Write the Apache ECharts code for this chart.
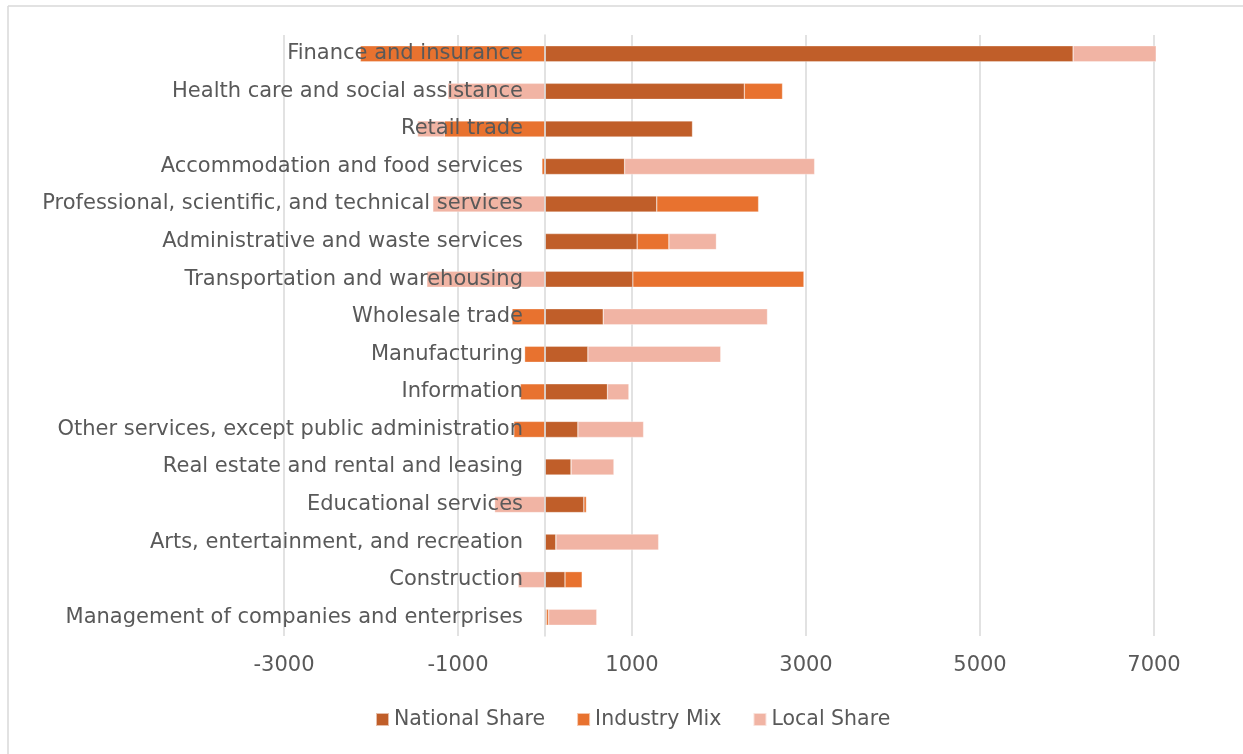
<!DOCTYPE html>
<html>
<head>
<meta charset="utf-8">
<script src="https://cdn.jsdelivr.net/npm/echarts@6/dist/echarts.min.js"></script>
<style>
  html, body { margin: 0; padding: 0; background: #ffffff; }
  #chart { width: 1243px; height: 754px; }
</style>
</head>
<body>
<div id="chart"></div>
<script>
// Industries, listed top to bottom
const categories = [
  'Finance and insurance',
  'Health care and social assistance',
  'Retail trade',
  'Accommodation and food services',
  'Professional, scientific, and technical services',
  'Administrative and waste services',
  'Transportation and warehousing',
  'Wholesale trade',
  'Manufacturing',
  'Information',
  'Other services, except public administration',
  'Real estate and rental and leasing',
  'Educational services',
  'Arts, entertainment, and recreation',
  'Construction',
  'Management of companies and enterprises'
];

// Shift-share components of employment change
const nationalShare = [6070, 2291, 1695, 915, 1285, 1059, 1010, 669, 493, 718, 378, 300, 447, 126, 230, 17];
const industryMix   = [-2122, 439, -1157, -35, 1170, 365, 1966, -378, -234, -283, -358, 0, 29, 0, 197, 25];
const localShare    = [955, -1116, -308, 2184, -1289, 546, -1358, 1888, 1527, 246, 755, 492, -579, 1180, -308, 553];

// Value axis ticks
const axisMin = -3000;
const axisMax = 7000;
const axisStep = 2000;

const seriesNames = ['National Share', 'Industry Mix', 'Local Share'];
const seriesColors = ['#C05E29', '#E8722F', '#F1B4A4'];

const FONT = '"DejaVu Sans", "Open Sans", sans-serif';
const TEXT = '#595959';
const GRID = '#d9d9d9';

// Plot area
const gridLeft = 284, gridRight = 89, gridTop = 35, gridBottom = 118;
const plotWidth = 1243 - gridLeft - gridRight;
// Category labels sit just left of the zero line, as the axis crosses there
const zeroOffset = (0 - axisMin) / (axisMax - axisMin) * plotWidth;
const labelGap = 22;

const chart = echarts.init(document.getElementById('chart'), null, { renderer: 'canvas' });

function barSeries(name, data, color) {
  return {
    name: name,
    type: 'bar',
    stack: 'total',
    data: data,
    barWidth: 16,
    clip: false,
    itemStyle: { color: color, borderColor: 'rgba(255,255,255,0.6)', borderWidth: 0.5 },
    emphasis: { disabled: true }
  };
}

chart.setOption({
  animation: false,
  backgroundColor: '#ffffff',
  textStyle: { fontFamily: FONT },
  graphic: [
    { type: 'line', shape: { x1: 8, y1: 6, x2: 8, y2: 754 }, style: { stroke: GRID, lineWidth: 1.5 } },
    { type: 'line', shape: { x1: 8, y1: 6, x2: 1243, y2: 6 }, style: { stroke: GRID, lineWidth: 1.5 } }
  ],
  grid: {
    left: gridLeft, right: gridRight, top: gridTop, bottom: gridBottom,
    containLabel: false,
    outerBoundsMode: 'none'
  },
  legend: {
    bottom: 19,
    left: 370,
    icon: 'rect',
    itemWidth: 13,
    itemHeight: 13,
    itemGap: 31,
    textStyle: { color: TEXT, fontSize: 20.5, fontFamily: FONT },
    data: seriesNames
  },
  xAxis: {
    type: 'value',
    min: axisMin,
    max: axisMax,
    interval: axisStep,
    axisLine: { show: false },
    axisTick: { show: false },
    axisLabel: {
      color: TEXT, fontSize: 21, margin: 19, fontFamily: FONT,
      formatter: v => String(v)
    },
    splitLine: { show: true, lineStyle: { color: GRID, width: 1.5 } }
  },
  yAxis: {
    type: 'category',
    data: categories,
    inverse: true,
    z: 10,
    axisLine: { show: true, onZero: true, lineStyle: { color: GRID, width: 1.5 } },
    axisTick: { show: false },
    axisLabel: {
      color: TEXT, fontSize: 21, fontFamily: FONT,
      margin: labelGap - zeroOffset
    }
  },
  series: [
    barSeries(seriesNames[0], nationalShare, seriesColors[0]),
    barSeries(seriesNames[1], industryMix, seriesColors[1]),
    barSeries(seriesNames[2], localShare, seriesColors[2])
  ]
});
</script>
</body>
</html>
